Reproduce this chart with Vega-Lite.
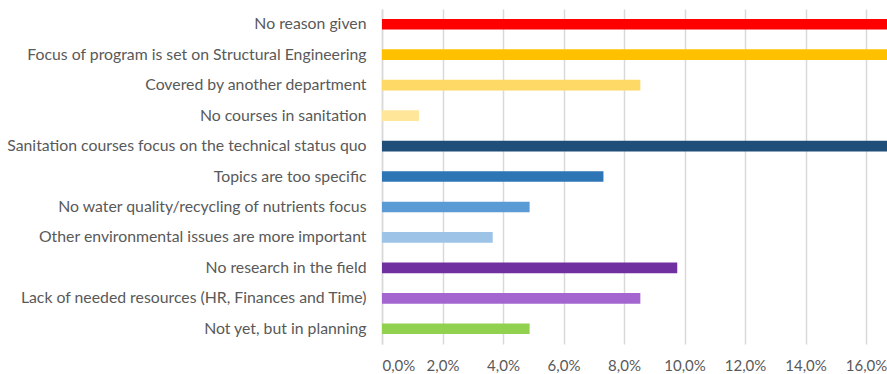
{
  "$schema": "https://vega.github.io/schema/vega-lite/v6.json",
  "width": 505,
  "height": 335,
  "autosize": {"type": "none"},
  "padding": {"left": 382, "top": 9, "right": 0, "bottom": 30},
  "config": {
    "view": {"stroke": null},
    "locale": {"number": {"decimal": ",", "thousands": ".", "grouping": [3], "currency": ["", " €"]}},
    "font": "Lato"
  },
  "data": {
    "values": [
      {"reason": "No reason given", "share": 0.195, "color": "#FF0000"},
      {"reason": "Focus of program is set on Structural Engineering", "share": 0.183, "color": "#FFC000"},
      {"reason": "Covered by another department", "share": 0.0854, "color": "#FFD966"},
      {"reason": "No courses in sanitation", "share": 0.0122, "color": "#FFE699"},
      {"reason": "Sanitation courses focus on the technical status quo", "share": 0.183, "color": "#1F4E79"},
      {"reason": "Topics are too specific", "share": 0.0732, "color": "#2E75B6"},
      {"reason": "No water quality/recycling of nutrients focus", "share": 0.0488, "color": "#5B9BD5"},
      {"reason": "Other environmental issues are more important", "share": 0.0366, "color": "#9DC3E6"},
      {"reason": "No research in the field", "share": 0.0976, "color": "#7030A0"},
      {"reason": "Lack of needed resources (HR, Finances and Time)", "share": 0.0854, "color": "#A366D1"},
      {"reason": "Not yet, but in planning", "share": 0.0488, "color": "#92D050"}
    ]
  },
  "mark": {"type": "bar", "clip": true},
  "encoding": {
    "y": {
      "field": "reason", "type": "nominal", "sort": null, "title": null,
      "scale": {"paddingInner": 0.65, "paddingOuter": 0.325},
      "axis": {"ticks": false, "domain": true, "domainColor": "#D9D9D9", "domainWidth": 1.5,
               "labelFontSize": 15.8, "labelColor": "#595959", "labelPadding": 16, "labelLimit": 420}
    },
    "x": {
      "field": "share", "type": "quantitative", "title": null,
      "scale": {"domain": [0, 0.16694], "nice": false, "zero": true},
      "axis": {"values": [0, 0.02, 0.04, 0.06, 0.08, 0.1, 0.12, 0.14, 0.16], "format": ".1%",
               "ticks": false, "domain": false, "grid": true, "gridColor": "#D9D9D9", "gridWidth": 1.5,
               "labelFontSize": 15, "labelColor": "#595959", "labelPadding": 14}
    },
    "color": {"field": "color", "type": "nominal", "scale": null, "legend": null}
  }
}
